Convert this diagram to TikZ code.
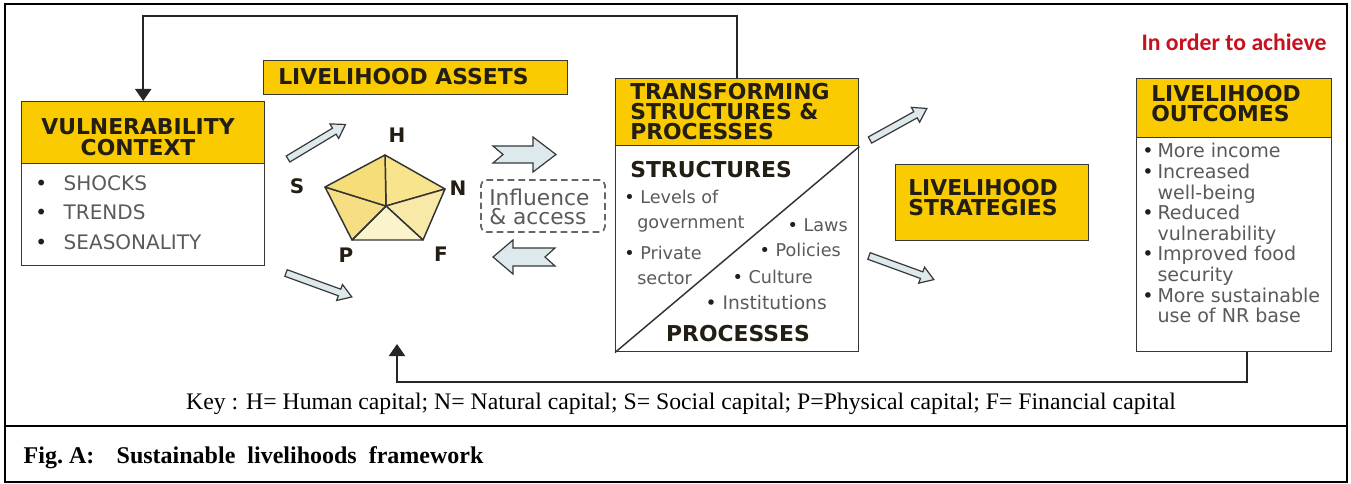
\documentclass[tikz,border=0pt]{standalone}
\usepackage{fontspec}
\setmainfont{Liberation Serif}
\newfontfamily\dv{DejaVu Sans}
\newfontfamily\cb{Carlito}
\usetikzlibrary{arrows.meta,calc}

\definecolor{hdryellow}{RGB}{250,203,0}
\definecolor{inktext}{RGB}{35,30,20}
\definecolor{bodygray}{RGB}{90,90,90}
\definecolor{arrowfill}{RGB}{221,233,237}
\definecolor{redtxt}{RGB}{200,16,30}
\definecolor{boxline}{RGB}{55,55,55}
\definecolor{pentA}{RGB}{247,228,140}
\definecolor{pentB}{RGB}{248,233,168}
\definecolor{pentC}{RGB}{251,243,203}
\definecolor{pentD}{RGB}{245,222,132}
\definecolor{pentE}{RGB}{245,222,122}

\tikzset{
  hdr/.style={fill=hdryellow, draw=boxline, line width=1.1pt, inner sep=0pt},
  bodybox/.style={draw=boxline, fill=white, line width=1.1pt, inner sep=0pt},
  htext/.style={font=\dv\bfseries\fontsize{16.4}{15}\selectfont, text=inktext, inner sep=0pt},
  btext/.style={font=\dv\fontsize{13.2}{15.4}\selectfont, text=bodygray, inner sep=0pt},
  lbl/.style={font=\dv\bfseries\fontsize{15}{16}\selectfont, text=inktext, inner sep=0pt},
  blockarrow/.style={draw=boxline, fill=arrowfill, line width=0.9pt, line join=miter},
  feedback/.style={draw=black!85, line width=1.5pt, -{Triangle[width=12pt,length=9pt]}},
  frame/.style={draw=black, line width=1.6pt},
}

% hollow arrow: start x, start y, angle, length
\newcommand\hollowarrow[4]{%
  \begin{scope}[shift={(#1,#2)}, rotate=#3]
    \draw[blockarrow] (0,-3.5) -- (#4-13,-3.5) -- (#4-13,-8.5) -- (#4,0)
      -- (#4-13,8.5) -- (#4-13,3.5) -- (0,3.5) -- cycle;
  \end{scope}}

\begin{document}
\begin{tikzpicture}[x=0.75pt, y=-0.75pt]
\useasboundingbox (0,0) rectangle (1351,484);

% outer frame and caption divider
\draw[frame] (5,4) rectangle (1347,482);
\draw[frame] (5,426) -- (1347,426);

% ---- Vulnerability context
\node[bodybox, anchor=north west, minimum width=243*0.75pt, minimum height=164*0.75pt] (vuln) at (21,101) {};
\node[hdr, anchor=north west, minimum width=243*0.75pt, minimum height=62*0.75pt] (vulnhead) at (21,101) {};
\node[htext, align=center] (vulntitle) at (138,137) {VULNERABILITY\\[1pt]CONTEXT};
\node[btext, anchor=west, font=\dv\fontsize{15}{22}\selectfont] (vlist) at (35,214)
  {\begin{tabular}{@{}l@{\hspace{12.5pt}}l@{}}
   \textcolor{inktext}{•} & SHOCKS\\
   \textcolor{inktext}{•} & TRENDS\\
   \textcolor{inktext}{•} & SEASONALITY
   \end{tabular}};

% ---- Livelihood assets
\node[hdr, anchor=north west, minimum width=304*0.75pt, minimum height=34*0.75pt] (assets) at (263,60) {};
\node[htext, anchor=west] (assetstitle) at (278,77) {LIVELIHOOD ASSETS};

\coordinate (pH) at (385,155);
\coordinate (pN) at (445,189);
\coordinate (pF) at (423,240);
\coordinate (pP) at (352,240);
\coordinate (pS) at (325,187);
\coordinate (pC) at (386,206);
\begin{scope}[draw=black!80, line width=1.1pt, line join=round]
  \filldraw[fill=pentA] (pH) -- (pN) -- (pC) -- cycle;
  \filldraw[fill=pentB] (pN) -- (pF) -- (pC) -- cycle;
  \filldraw[fill=pentC] (pF) -- (pP) -- (pC) -- cycle;
  \filldraw[fill=pentD] (pP) -- (pS) -- (pC) -- cycle;
  \filldraw[fill=pentE] (pS) -- (pH) -- (pC) -- cycle;
\end{scope}
\node[lbl] (lH) at (397,135) {H};
\node[lbl] (lN) at (458,188) {N};
\node[lbl] (lF) at (441,254) {F};
\node[lbl] (lP) at (346,255) {P};
\node[lbl] (lS) at (297,186) {S};

\hollowarrow{288}{159}{31}{67}
\hollowarrow{286}{273}{-20}{70}

% influence arrows and dashed box
\draw[blockarrow] (493,146) -- (533,146) -- (533,137) -- (556,154.5) -- (533,172)
  -- (533,163) -- (493,163) -- (503,154.5) -- cycle;
\draw[blockarrow] (555,248) -- (513,248) -- (513,240) -- (493,257) -- (513,274)
  -- (513,266) -- (555,266) -- (545,257) -- cycle;
\node[draw=black!60, dash pattern=on 5pt off 3pt, line width=1.3pt, rounded corners=4pt,
      minimum width=124*0.75pt, minimum height=52*0.75pt, inner sep=0pt] (infl) at (543,206) {};
\node[btext, font=\dv\fontsize{16.3}{14.3}\selectfont, align=left, anchor=west] (infltext) at (489,207)
  {Influence\\\& access};

% ---- Transforming structures & processes
\node[bodybox, anchor=north west, minimum width=243*0.75pt, minimum height=273*0.75pt] (trans) at (615,78) {};
\node[hdr, anchor=north west, minimum width=243*0.75pt, minimum height=67*0.75pt] (transhead) at (615,78) {};
\node[htext, anchor=west, align=left] (transtitle) at (630,112)
  {TRANSFORMING\\STRUCTURES \&\\PROCESSES};
\draw[black!80, line width=1.1pt] (trans.south west) -- (transhead.south east);
\node[htext, anchor=west] (structs) at (630,170) {STRUCTURES};
\node[btext, anchor=west] (s1) at (624,197) {\textcolor{inktext}{•} Levels of};
\node[btext, anchor=west] (s2) at (637,224) {government};
\node[btext, anchor=west] (s3) at (624,253) {\textcolor{inktext}{•} Private};
\node[btext, anchor=west] (s4) at (637,278) {sector};
\node[btext, anchor=east] (p1) at (848,225) {\textcolor{inktext}{•} Laws};
\node[btext, anchor=east] (p2) at (841,250) {\textcolor{inktext}{•} Policies};
\node[btext, anchor=east] (p3) at (813,277) {\textcolor{inktext}{•} Culture};
\node[btext, anchor=east, font=\dv\fontsize{14}{15.4}\selectfont] (p4) at (827,303) {\textcolor{inktext}{•} Institutions};
\node[htext] (procs) at (738,334) {PROCESSES};

\hollowarrow{870}{140}{29}{65}
\hollowarrow{869}{256}{-20}{69}

% ---- Livelihood strategies
\node[hdr, anchor=north west, minimum width=193*0.75pt, minimum height=76*0.75pt] (strat) at (895,164) {};
\node[htext, anchor=west, align=left] (strattitle) at (908,198) {LIVELIHOOD\\STRATEGIES};

% ---- Livelihood outcomes
\node[font=\cb\bfseries\fontsize{17.8}{20}\selectfont, text=redtxt] (achieve) at (1234,42) {In order to achieve};
\node[bodybox, anchor=north west, minimum width=195*0.75pt, minimum height=273*0.75pt] (outc) at (1136,78) {};
\node[hdr, anchor=north west, minimum width=195*0.75pt, minimum height=59*0.75pt] (outchead) at (1136,78) {};
\node[htext, anchor=west, align=left] (outctitle) at (1151,104) {LIVELIHOOD\\OUTCOMES};
\node[btext, anchor=north west, font=\dv\fontsize{14.3}{15.4}\selectfont] (olist) at (1142,143)
  {\begin{tabular}{@{}l@{\hspace{3pt}}l@{}}
   \textcolor{inktext}{•} & More income\\
   \textcolor{inktext}{•} & Increased\\
     & well-being\\
   \textcolor{inktext}{•} & Reduced\\
     & vulnerability\\
   \textcolor{inktext}{•} & Improved food\\
     & security\\
   \textcolor{inktext}{•} & More sustainable\\
     & use of NR base
   \end{tabular}};

% ---- feedback loops
\draw[feedback] (trans.north) -- ++(0,-62) -| (vuln.north);
\coordinate (backtip) at (397,344);
\draw[feedback] ([xshift=12.5*0.75pt]outc.south) -- ++(0,30) -| (backtip);

% ---- key and caption
\node[anchor=base, font=\fontsize{17.8}{20}\selectfont] (key) at (681,409)
  {Key : H= Human capital; N= Natural capital; S= Social capital; P=Physical capital; F= Financial capital};
\node[anchor=base west, font=\bfseries\fontsize{18}{20}\selectfont] (figlabel) at (19,463) {Fig.\ A:};
\node[anchor=base west, font=\bfseries\fontsize{18}{20}\selectfont] (figtitle) at (112,463)
  {Sustainable\ \ livelihoods\ \ framework};
\end{tikzpicture}
\end{document}
